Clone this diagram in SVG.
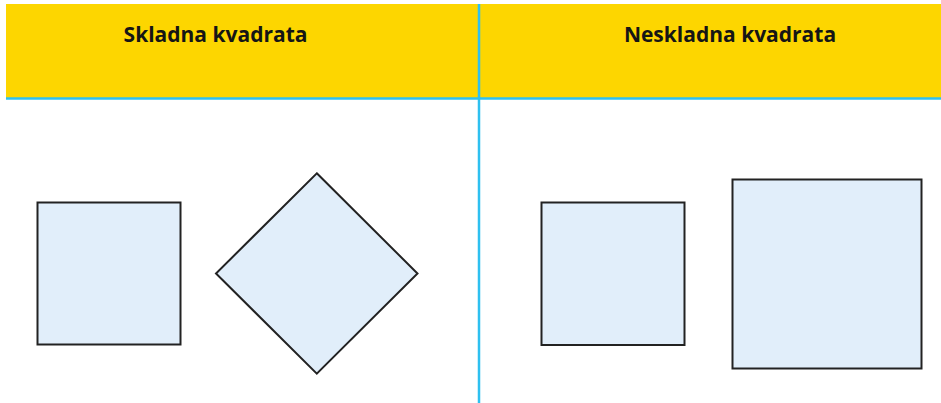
<svg xmlns="http://www.w3.org/2000/svg" width="941" height="403" viewBox="0 0 941 403">
<style>
.hdr{font-family:"Open Sans","Noto Sans",sans-serif;font-weight:bold;font-size:21px;fill:#151515;text-anchor:middle}
.sq{fill:#e1eefa;stroke:#222;stroke-width:2}
.rule{stroke:#2ec0f0;stroke-width:2.5}
</style>
<rect x="0" y="0" width="941" height="403" fill="#ffffff"/>
<rect x="6" y="4" width="935" height="94" fill="#fdd600"/>
<g id="rules">
<line class="rule" x1="6" y1="98.5" x2="941" y2="98.5"/>
<line class="rule" x1="479" y1="4" x2="479" y2="403"/>
</g>
<g id="header-left"><text class="hdr" x="215.5" y="42">Skladna kvadrata</text></g>
<g id="header-right"><text class="hdr" x="730" y="42">Neskladna kvadrata</text></g>
<g id="square-left"><rect class="sq" x="37.5" y="202.5" width="143" height="142"/></g>
<g id="diamond"><polygon class="sq" points="316.8,173.3 417.5,273.5 316.8,373.7 216,273.5"/></g>
<g id="square-right-small"><rect class="sq" x="541.5" y="202.5" width="143" height="142.5"/></g>
<g id="square-right-big"><rect class="sq" x="732.5" y="179.5" width="189" height="189"/></g>
</svg>
